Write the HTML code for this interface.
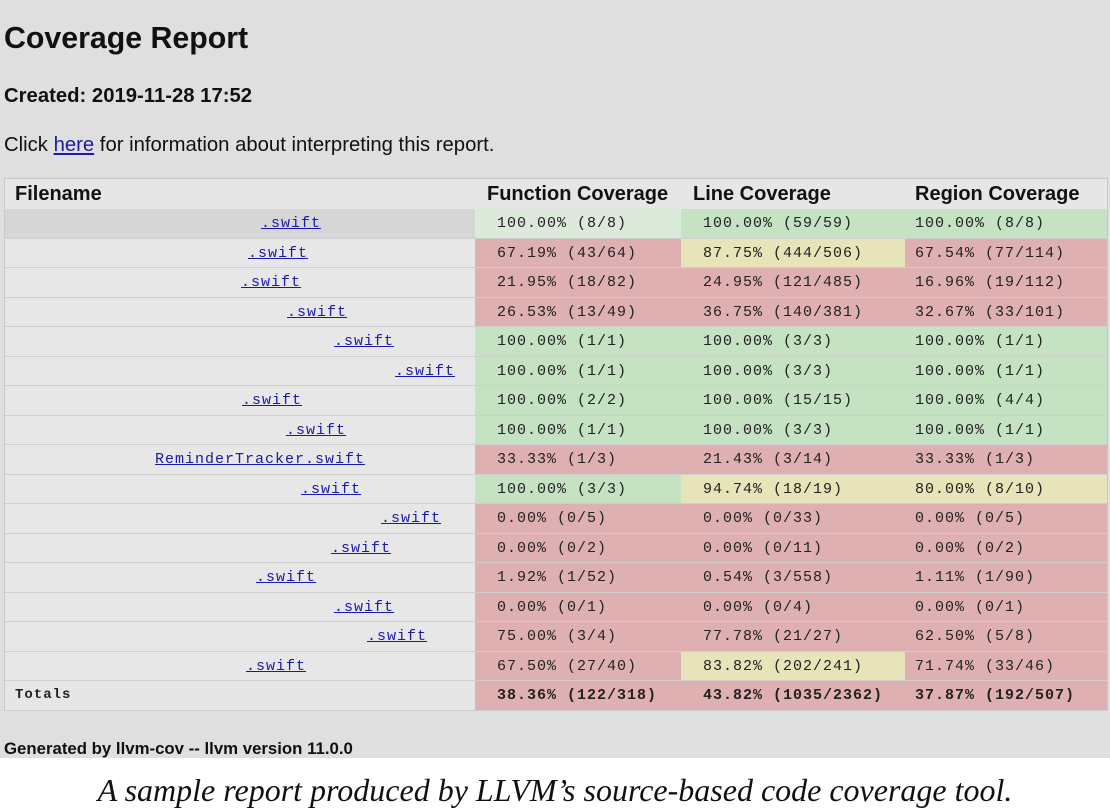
<!DOCTYPE html>
<html><head><meta charset="utf-8"><style>
html,body{margin:0;padding:0;width:1110px;height:812px;overflow:hidden;background:#fff;font-family:"Liberation Sans",sans-serif}
#page{position:absolute;left:0;top:0;width:1110px;height:758px;background:#dfdfdf}
.abs{position:absolute;white-space:nowrap}
h1{position:absolute;left:4px;top:22px;margin:0;font-size:30.3px;font-weight:bold;color:#111}
#created{left:4px;top:85px;font-size:20.3px;font-weight:bold;color:#111}
#info{left:4px;top:134px;font-size:20.3px;color:#111}
#info a{color:#1a1aa6}
#tbl{position:absolute;left:4px;top:178px;width:1102px;height:531px;border:1px solid #c8c8c8;background:#e6e6e6}
.cell{position:absolute;box-sizing:border-box;font-family:"Liberation Mono",monospace;font-size:15px;letter-spacing:1px;color:#222;white-space:nowrap;border-bottom:1px solid #cfcfcf}
.hd{position:absolute;font-size:20px;font-weight:bold;color:#111;top:4px}
.g{background:#c5e2c3}.r{background:#dfb0b1}.y{background:#e6e4b8}
.fn a{color:#1a1aa6;text-decoration:underline}
#gen{left:4px;top:739px;font-size:16.8px;font-weight:bold;color:#111}
#cap{left:0;width:1110px;top:772px;text-align:center;font-family:"Liberation Serif",serif;font-style:italic;font-size:32px;color:#111}
</style></head><body>
<div id="page">
<h1>Coverage Report</h1>
<div id="created" class="abs">Created: 2019-11-28 17:52</div>
<div id="info" class="abs">Click <a href="#">here</a> for information about interpreting this report.</div>
<div id="tbl">
<div class="hd" style="left:10px">Filename</div>
<div class="hd" style="left:482px">Function Coverage</div>
<div class="hd" style="left:688px">Line Coverage</div>
<div class="hd" style="left:910px">Region Coverage</div>
</div>
<div id="gen" class="abs">Generated by llvm-cov -- llvm version 11.0.0</div>
</div>
<div id="cap" class="abs">A sample report produced by LLVM’s source-based code coverage tool.</div>
<script>
const files=[".swift",".swift",".swift",".swift",".swift",".swift",".swift",".swift","ReminderTracker.swift",".swift",".swift",".swift",".swift",".swift",".swift",".swift"];
const fileX=[260,247,240,286,333,394,241,285,154,300,380,330,255,333,366,245];
const funcs=["100.00% (8/8)","67.19% (43/64)","21.95% (18/82)","26.53% (13/49)","100.00% (1/1)","100.00% (1/1)","100.00% (2/2)","100.00% (1/1)","33.33% (1/3)","100.00% (3/3)","0.00% (0/5)","0.00% (0/2)","1.92% (1/52)","0.00% (0/1)","75.00% (3/4)","67.50% (27/40)","38.36% (122/318)"];
const lines=["100.00% (59/59)","87.75% (444/506)","24.95% (121/485)","36.75% (140/381)","100.00% (3/3)","100.00% (3/3)","100.00% (15/15)","100.00% (3/3)","21.43% (3/14)","94.74% (18/19)","0.00% (0/33)","0.00% (0/11)","0.54% (3/558)","0.00% (0/4)","77.78% (21/27)","83.82% (202/241)","43.82% (1035/2362)"];
const regions=["100.00% (8/8)","67.54% (77/114)","16.96% (19/112)","32.67% (33/101)","100.00% (1/1)","100.00% (1/1)","100.00% (4/4)","100.00% (1/1)","33.33% (1/3)","80.00% (8/10)","0.00% (0/5)","0.00% (0/2)","1.11% (1/90)","0.00% (0/1)","62.50% (5/8)","71.74% (33/46)","37.87% (192/507)"];
const fc="grrrggggrgrrrrrrr",lc="gyrrggggryrrrrryr",rc="grrrggggryrrrrrrr";
const tbl=document.getElementById('tbl');
const rowH=29.5,top0=30;
function mk(left,w,t,cls,txt,pad){const d=document.createElement('div');d.className='cell '+cls;d.style.left=left+'px';d.style.width=w+'px';d.style.top=t+'px';d.style.height=rowH+'px';d.style.lineHeight=rowH+'px';d.style.paddingLeft=pad+'px';d.textContent=txt;tbl.appendChild(d);return d;}
for(let i=0;i<17;i++){
 const t=top0+i*rowH,tot=i===16;
 let fn;
 if(!tot){fn=mk(0,470,t,'fn','',0);fn.style.background=i===0?'#d6d6d6':'#e7e7e7';
  const a=document.createElement('a');a.href='#';a.textContent=files[i];a.style.position='absolute';a.style.left=(fileX[i]-4)+'px';
  
  
  fn.appendChild(a);}
 else{fn=mk(0,470,t,'','Totals',10);fn.style.fontWeight='bold';fn.style.fontSize='14px';}
 
 
 const f=mk(470,206,t,fc[i],funcs[i],22);if(i===0)f.style.background='#dcebd9';
 
 
 const l=mk(676,224,t,lc[i],lines[i],22);
 
 
 const r=mk(900,202,t,rc[i],regions[i],10);
 
 
 if(tot){f.style.fontWeight=l.style.fontWeight=r.style.fontWeight='bold';}
}
</script>
</body></html>
